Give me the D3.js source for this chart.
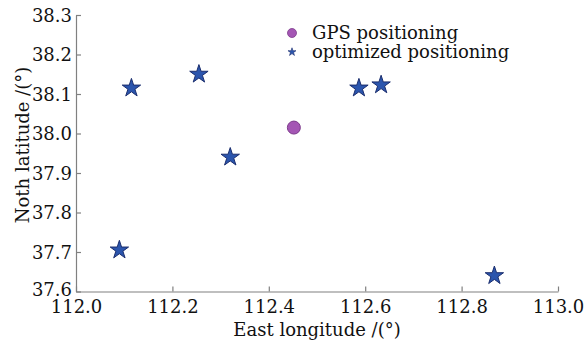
<!DOCTYPE html>
<html>
<head>
<meta charset="utf-8">
<script src="https://cdn.jsdelivr.net/npm/d3@7"></script>
<style>
  body { margin: 0; background: #fff; }
  svg text { font-family: "DejaVu Serif", "Liberation Serif", serif; fill: #111; }
</style>
</head>
<body>
<svg id="chart" width="588" height="341"></svg>
<script>
const X_TICKS = [112.0, 112.2, 112.4, 112.6, 112.8, 113.0];
const Y_TICKS = [37.6, 37.7, 37.8, 37.9, 38.0, 38.1, 38.2, 38.3];

const gpsLon = [112.452];
const gpsLat = [38.015];

const optLon = [112.09, 112.115, 112.255, 112.32, 112.587, 112.633, 112.868];
const optLat = [37.705, 38.115, 38.15, 37.94, 38.115, 38.123, 37.64];

const LEGEND = ["GPS positioning", "optimized positioning"];

const STAR_FILL = "#2b55ad";
const STAR_STROKE = "#1b2e6e";
const DOT_FILL = "#a456b4";
const DOT_STROKE = "#7d3b8c";
const AXIS = "#808080";

const margin = { left: 76, right: 30, top: 15, bottom: 49.5 };
const width = 588, height = 341;

const svg = d3.select("#chart");

const x = d3.scaleLinear().domain([112.0, 113.0]).range([margin.left, width - margin.right]);
const y = d3.scaleLinear().domain([37.6, 38.3]).range([height - margin.bottom, margin.top]);

// axes: ticks point inward
const xAxis = svg.append("g")
  .attr("transform", `translate(0,${height - margin.bottom})`)
  .call(d3.axisBottom(x).tickValues(X_TICKS).tickFormat(d3.format(".1f"))
    .tickSizeInner(-5).tickSizeOuter(0).tickPadding(9));

const yAxis = svg.append("g")
  .attr("transform", `translate(${margin.left},0)`)
  .call(d3.axisLeft(y).tickValues(Y_TICKS).tickFormat(d3.format(".1f"))
    .tickSizeInner(-5).tickSizeOuter(0).tickPadding(4));

[xAxis, yAxis].forEach((a) => {
  a.select(".domain").attr("stroke", AXIS).attr("stroke-width", 1.2);
  a.selectAll(".tick line").attr("stroke", AXIS).attr("stroke-width", 1.2);
  a.selectAll(".tick text")
    .attr("font-size", 18)
    .attr("font-family", "DejaVu Serif")
    .attr("fill", "#111");
});
xAxis.selectAll(".tick text").attr("dy", "0.71em");
yAxis.selectAll(".tick text").attr("dy", (d) => (d === 37.6 ? "0.2em" : "0.36em"));

// axis titles
svg.append("text")
  .attr("x", x(112.5))
  .attr("y", 336)
  .attr("text-anchor", "middle")
  .attr("font-size", 18)
  .text("East longitude /(°)");

svg.append("text")
  .attr("transform", `translate(29,145) rotate(-90)`)
  .attr("text-anchor", "middle")
  .attr("font-size", 18)
  .text("Noth latitude /(°)");

// optimized positions
const star = d3.symbol().type(d3.symbolStar);
svg.append("g").selectAll("path")
  .data(optLon.map((d, i) => [d, optLat[i]]))
  .join("path")
  .attr("transform", (d) => `translate(${x(d[0])},${y(d[1])})`)
  .attr("d", star.size(105)())
  .attr("fill", STAR_FILL)
  .attr("stroke", STAR_STROKE)
  .attr("stroke-width", 1);

// GPS position
svg.append("g").selectAll("circle")
  .data(gpsLon.map((d, i) => [d, gpsLat[i]]))
  .join("circle")
  .attr("cx", (d) => x(d[0]))
  .attr("cy", (d) => y(d[1]))
  .attr("r", 6.5)
  .attr("fill", DOT_FILL)
  .attr("stroke", DOT_STROKE)
  .attr("stroke-width", 1);

// legend
const leg = svg.append("g").attr("transform", "translate(292,33)");
leg.append("circle").attr("r", 4.5)
  .attr("fill", DOT_FILL).attr("stroke", DOT_STROKE).attr("stroke-width", 0.8);
leg.append("path").attr("transform", "translate(0,19)")
  .attr("d", star.size(20)())
  .attr("fill", STAR_FILL).attr("stroke", STAR_STROKE).attr("stroke-width", 0.6);
leg.selectAll("text")
  .data(LEGEND)
  .join("text")
  .attr("x", 20)
  .attr("y", (d, i) => i * 19)
  .attr("dy", "0.35em")
  .attr("font-size", 18)
  .text((d) => d);
</script>
</body>
</html>
